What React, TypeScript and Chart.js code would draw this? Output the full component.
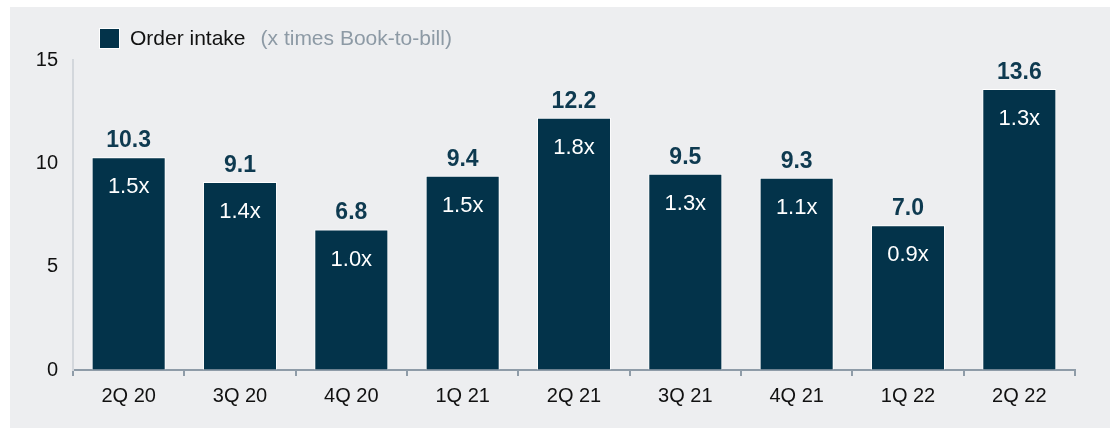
import React, { useEffect, useRef } from "react";
import { Chart, registerables } from "chart.js";

Chart.register(...registerables);

const categories = ["2Q 20", "3Q 20", "4Q 20", "1Q 21", "2Q 21", "3Q 21", "4Q 21", "1Q 22", "2Q 22"];
const orderIntake = [10.3, 9.1, 6.8, 9.4, 12.2, 9.5, 9.3, 7.0, 13.6];
const bookToBill = [1.5, 1.4, 1.0, 1.5, 1.8, 1.3, 1.1, 0.9, 1.3];
const yTicks = [0, 5, 10, 15];
const legendTitle = "Order intake";
const legendNote = "(x times Book-to-bill)";

const FONT = "'Liberation Sans', Arial, sans-serif";
const BAR = "#03334a";

const labelsPlugin = {
  id: "barLabels",
  afterDatasetsDraw(chart: any) {
    const ctx = chart.ctx;
    const meta = chart.getDatasetMeta(0);
    ctx.save();
    ctx.textAlign = "center";
    meta.data.forEach((bar: any, i: number) => {
      ctx.font = `bold 23px ${FONT}`;
      ctx.fillStyle = "#0e3a50";
      ctx.textBaseline = "alphabetic";
      ctx.fillText(orderIntake[i].toFixed(1), bar.x, bar.y - 10);
      ctx.font = `22px ${FONT}`;
      ctx.fillStyle = "#ffffff";
      ctx.textBaseline = "middle";
      ctx.fillText(bookToBill[i].toFixed(1) + "x", bar.x, bar.y + 30);
    });
    ctx.restore();
  },
};

const legendPlugin = {
  id: "customLegend",
  afterDraw(chart: any) {
    const ctx = chart.ctx;
    ctx.save();
    ctx.fillStyle = BAR;
    ctx.strokeStyle = "#ffffff";
    ctx.lineWidth = 1;
    ctx.fillRect(89, 21, 21, 21);
    ctx.strokeRect(89.5, 21.5, 20, 20);
    ctx.font = `21px ${FONT}`;
    ctx.textBaseline = "middle";
    ctx.textAlign = "left";
    ctx.fillStyle = "#111111";
    ctx.fillText(legendTitle, 120, 32);
    const w = ctx.measureText(legendTitle).width;
    ctx.fillStyle = "#8d9aa5";
    ctx.fillText(legendNote, 120 + w + 15, 32);
    ctx.restore();
  },
};

export default function App() {
  const ref = useRef<HTMLCanvasElement | null>(null);
  useEffect(() => {
    if (!ref.current) return;
    const chart = new Chart(ref.current, {
      type: "bar",
      data: {
        labels: categories,
        datasets: [
          {
            label: legendTitle,
            data: orderIntake,
            backgroundColor: BAR,
            borderColor: "#ffffff",
            borderWidth: 1,
            categoryPercentage: 1,
            barPercentage: 0.665,
          },
        ],
      },
      options: {
        animation: false,
        responsive: false,
        maintainAspectRatio: false,
        layout: { padding: { top: 53, right: 35, left: 0, bottom: 0 } },
        plugins: { legend: { display: false }, tooltip: { enabled: false } },
        scales: {
          x: {
            grid: {
              drawOnChartArea: false,
              drawTicks: true,
              tickLength: 6,
              color: "#8f9ca8",
              lineWidth: 2,
              offset: true,
            },
            border: { color: "#8f9ca8", width: 2 },
            ticks: { color: "#111111", font: { family: FONT, size: 20 }, padding: 8 },
            afterFit(scale: any) {
              scale.height = 58;
            },
          },
          y: {
            min: 0,
            max: 15,
            afterBuildTicks(scale: any) {
              scale.ticks = yTicks.map((v) => ({ value: v }));
            },
            grid: { display: true, drawOnChartArea: false, drawTicks: false },
            border: { color: "#d3d7dc", width: 2 },
            ticks: { color: "#111111", font: { family: FONT, size: 20 }, padding: 15 },
            afterFit(scale: any) {
              scale.width = 63;
            },
          },
        },
      },
      plugins: [labelsPlugin, legendPlugin],
    });
    return () => chart.destroy();
  }, []);
  return (
    <div style={{ position: "absolute", left: 0, top: 0, width: 1110, height: 432, background: "#ffffff" }}>
      <div style={{ position: "absolute", left: 10, top: 7, width: 1100, height: 421, background: "#edeef0" }}>
        <canvas ref={ref} width={1100} height={421} style={{ display: "block" }} />
      </div>
    </div>
  );
}
